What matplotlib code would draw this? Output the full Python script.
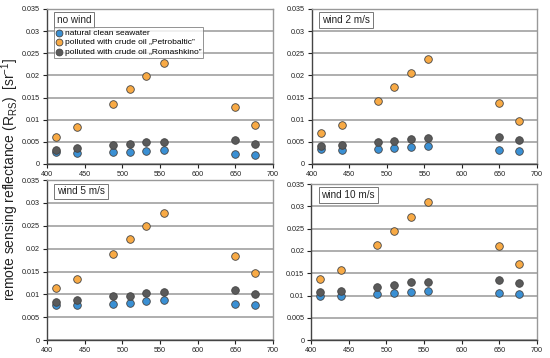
import numpy as np
import matplotlib.pyplot as plt

# wavelengths [nm]
wavelengths = [412, 440, 488, 510, 532, 555, 650, 676]

# no wind
clean_0 = [0.0026, 0.0025, 0.0026, 0.0028, 0.0030, 0.0032, 0.0023, 0.0021]
petro_0 = [0.0062, 0.0083, 0.0136, 0.0169, 0.0198, 0.0227, 0.0129, 0.0088]
romash_0 = [0.0032, 0.0035, 0.0042, 0.0044, 0.0050, 0.0050, 0.0053, 0.0046]

# wind 2 m/s
clean_2 = [0.0033, 0.0032, 0.0033, 0.0035, 0.0038, 0.0040, 0.0032, 0.0029]
petro_2 = [0.0069, 0.0089, 0.0142, 0.0174, 0.0206, 0.0238, 0.0137, 0.0098]
romash_2 = [0.0040, 0.0042, 0.0050, 0.0051, 0.0057, 0.0059, 0.0061, 0.0054]

# wind 5 m/s
clean_5 = [0.0077, 0.0077, 0.0079, 0.0082, 0.0085, 0.0087, 0.0079, 0.0077]
petro_5 = [0.0113, 0.0134, 0.0189, 0.0221, 0.0250, 0.0279, 0.0184, 0.0146]
romash_5 = [0.0084, 0.0088, 0.0096, 0.0096, 0.0104, 0.0106, 0.0109, 0.0101]

# wind 10 m/s
clean_10 = [0.0099, 0.0100, 0.0104, 0.0106, 0.0108, 0.0110, 0.0105, 0.0103]
petro_10 = [0.0137, 0.0157, 0.0214, 0.0245, 0.0277, 0.0310, 0.0210, 0.0171]
romash_10 = [0.0107, 0.0111, 0.0120, 0.0123, 0.0130, 0.0131, 0.0134, 0.0127]

panel_titles = ["no wind", "wind 2 m/s", "wind 5 m/s", "wind 10 m/s"]
series_labels = ["natural clean seawater",
                 "polluted with crude oil \u201ePetrobaltic\u201d",
                 "polluted with crude oil \u201eRomashkino\u201d"]

panels = [(clean_0, petro_0, romash_0), (clean_2, petro_2, romash_2),
          (clean_5, petro_5, romash_5), (clean_10, petro_10, romash_10)]

colors = ["#3a90d4", "#f8aa45", "#5a5a5a"]

plt.rcParams['font.family'] = ['Liberation Sans', 'DejaVu Sans']

fig = plt.figure(figsize=(5.5, 3.58), dpi=100)

# axes rectangles [left, bottom, width, height] in figure fraction
rects = [[0.0855, 0.542, 0.411, 0.433],
         [0.567, 0.542, 0.409, 0.433],
         [0.0855, 0.050, 0.411, 0.447],
         [0.566, 0.050, 0.410, 0.436]]

for k, (rect, data, title) in enumerate(zip(rects, panels, panel_titles)):
    ax = fig.add_axes(rect)
    ax.set_xlim(400, 700)
    ax.set_ylim(0, 0.035)
    ax.set_xticks(np.arange(400, 701, 50))
    ax.set_yticks(np.arange(0, 0.0351, 0.005))
    ax.set_yticklabels(["0", "0.005", "0.01", "0.015", "0.02", "0.025", "0.03", "0.035"])
    ax.tick_params(labelsize=5.2, length=3, width=0.8, colors="#222222", pad=2)
    ax.grid(axis='y', color="#a8a8a8", linewidth=1.3)
    ax.set_axisbelow(True)
    for side in ["top", "right"]:
        ax.spines[side].set_color("#999999")
        ax.spines[side].set_linewidth(1.0)
    for side in ["left", "bottom"]:
        ax.spines[side].set_color("#444444")
        ax.spines[side].set_linewidth(1.0)

    handles = []
    # draw order: clean, petro, romash
    for vals, c, lab in zip(data, colors, series_labels):
        h = ax.scatter(wavelengths, vals, s=30, color=c, edgecolors="#444444",
                       linewidths=0.6, zorder=3, label=lab)
        handles.append(h)

    ax.text(0.045, 0.96, title, transform=ax.transAxes, fontsize=7.2,
            color="#222222", va="top", ha="left",
            bbox=dict(boxstyle="square,pad=0.28", fc="white", ec="#777777", lw=0.7))

    if k == 0:
        leg = ax.legend(handles=handles, loc="upper left", bbox_to_anchor=(0.03, 0.885),
                        fontsize=6.0, frameon=True, fancybox=False, borderpad=0.25,
                        handletextpad=0.25, labelspacing=0.22, handlelength=0.8,
                        borderaxespad=0.0, markerscale=0.9)
        leg.get_frame().set_edgecolor("#777777")
        leg.get_frame().set_linewidth(0.7)

fig.text(0.018, 0.5, "remote sensing reflectance (R$_{\\mathregular{RS}}$)  [sr$^{\\mathregular{-1}}$]",
         rotation=90, va="center", ha="center", fontsize=10, color="#222222")

fig.savefig("out.png", dpi=100)
